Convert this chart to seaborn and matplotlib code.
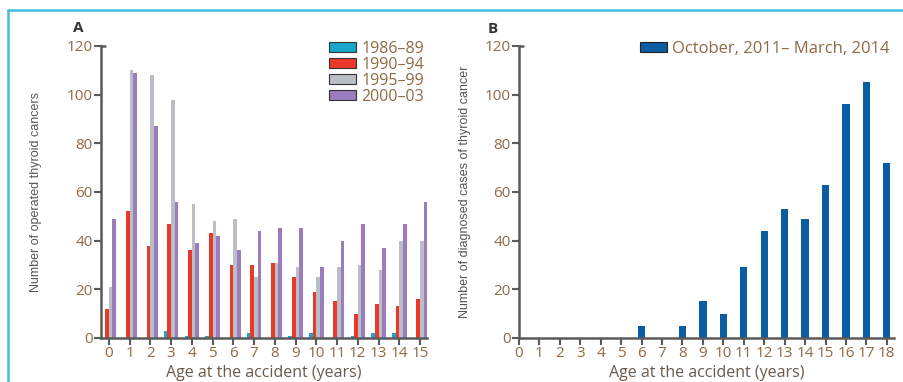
import numpy as np
import pandas as pd
import seaborn as sns
from matplotlib import pyplot as plt
from matplotlib.lines import Line2D

sns.set_style('ticks')
plt.rcParams['font.family'] = ['Open Sans', 'DejaVu Sans']

# Panel A: operated thyroid cancers by age at the accident
ages_a = list(range(16))
periods = ['1986–89', '1990–94', '1995–99', '2000–03']
y_1986 = [0, 0, 0, 3, 1, 1, 0, 2, 0, 1, 2, 0, 1, 2, 2, 0]
y_1990 = [12, 52, 38, 47, 36, 43, 30, 30, 31, 25, 19, 15, 10, 14, 13, 16]
y_1995 = [21, 110, 108, 98, 55, 48, 49, 25, 31, 29, 25, 29, 30, 28, 40, 40]
y_2000 = [49, 109, 87, 56, 39, 42, 36, 44, 45, 45, 29, 40, 47, 37, 47, 56]
colors_a = ['#1aa6c8', '#e8392b', '#b9bfc5', '#9a7cbf']

# Panel B: diagnosed cases, October 2011 - March 2014
ages_b = list(range(19))
y_b = [0, 0, 0, 0, 0, 0, 5, 0, 5, 15, 10, 29, 44, 53, 49, 63, 96, 105, 72]
color_b = '#0a5ca3'
label_b = 'October, 2011– March, 2014'

df_a = pd.DataFrame({
  'age': ages_a * 4,
  'period': [p for p in periods for _ in ages_a],
  'count': y_1986 + y_1990 + y_1995 + y_2000,
})
df_b = pd.DataFrame({'age': ages_b, 'count': y_b})

tick_col = '#8f6a45'
spine_col = '#5a5a5a'
narrow = ['Liberation Sans Narrow', 'Liberation Sans', 'DejaVu Sans']

fig = plt.figure(figsize=(9.04, 3.82), dpi=100)
ax1 = fig.add_axes([0.1117, 0.1152, 0.3606, 0.7644])
ax2 = fig.add_axes([0.5741, 0.1152, 0.4148, 0.7644])

sns.barplot(data=df_a, x='age', y='count', hue='period', hue_order=periods,
            palette=colors_a, width=0.7, ax=ax1, errorbar=None, saturation=1,
            linewidth=0)
sns.barplot(data=df_b, x='age', y='count', color=color_b, width=0.36,
            ax=ax2, errorbar=None, saturation=1, label=label_b, linewidth=0)

ax1.set_xlim(-0.38, 15.33)
ax2.set_xlim(0, 18.35)

for ax in (ax1, ax2):
  ax.set_ylim(0, 120)
  ax.set_yticks(range(0, 121, 20))
  sns.despine(ax=ax)
  for s in ('left', 'bottom'):
    ax.spines[s].set_color(spine_col)
    ax.spines[s].set_linewidth(1.8)
  ax.tick_params(axis='both', colors=spine_col, labelcolor=tick_col,
                 labelsize=11, length=5, width=1.5, pad=1)
  ax.set_xlabel('Age at the accident (years)', fontsize=11.5, color='#6b5a4a', labelpad=3)
  # small cap at top of y axis
  ax.plot([0, 0.012], [1, 1], transform=ax.transAxes, color=spine_col,
          lw=1.8, clip_on=False)

ax1.set_ylabel('Number of operated thyroid cancers', fontsize=9,
               family=narrow, color='#555555', labelpad=18)
ax2.set_ylabel('Number of diagnosed cases of thyroid cancer', fontsize=9,
               family=narrow, color='#555555', labelpad=10)

leg1 = ax1.legend(loc='upper right', bbox_to_anchor=(1.01, 1.04), frameon=False,
                  fontsize=11.5, handlelength=1.7, handleheight=0.6, labelspacing=0.0,
                  handletextpad=0.3, borderaxespad=0)
for h in leg1.legend_handles:
  h.set_edgecolor('#333333')
  h.set_linewidth(0.8)
for t in leg1.get_texts():
  t.set_color(tick_col)

leg2 = ax2.legend(loc='upper right', bbox_to_anchor=(1.005, 1.04), frameon=False,
                  fontsize=12, handlelength=1.6, handleheight=0.6,
                  handletextpad=0.3, borderaxespad=0)
for h in leg2.legend_handles:
  h.set_edgecolor('#222222')
  h.set_linewidth(0.8)
for t in leg2.get_texts():
  t.set_color(tick_col)

fig.text(78 / 904, 1 - 28 / 382, 'A', fontsize=11, fontweight='bold', color='#333333',
         ha='center', va='center')
fig.text(493 / 904, 1 - 29 / 382, 'B', fontsize=11, fontweight='bold', color='#333333',
         ha='center', va='center')

# light frame around the figure (top and left edges visible)
border = '#3dbfdd'
fig.add_artist(Line2D([8 / 904, 1], [1 - 10 / 382, 1 - 10 / 382], color=border, lw=1.8))
fig.add_artist(Line2D([8 / 904, 8 / 904], [0, 1 - 10 / 382], color=border, lw=1.8))

fig.savefig('out.png', dpi=100)
